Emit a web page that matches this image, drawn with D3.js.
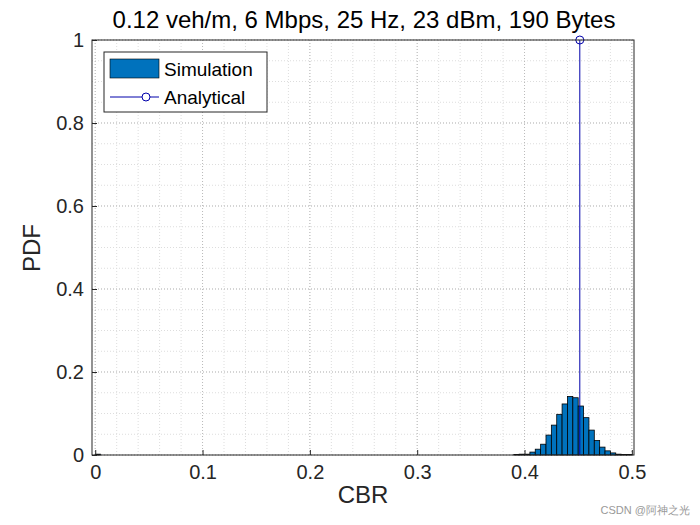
<!DOCTYPE html><html><head><script src="https://cdn.jsdelivr.net/npm/d3@7"></script>
<style>body{margin:0;background:#fff}text{font-family:Arial,"Liberation Sans",sans-serif}</style></head><body><svg id="c" width="700" height="525"></svg>
<script>
const binStarts=[0.0,0.39,0.395,0.40,0.405,0.41,0.415,0.42,0.425,0.43,0.435,0.44,0.445,0.45,0.455,0.46,0.465,0.47,0.475,0.48,0.485,0.49,0.495];
const pdfVals=[0.002,0.001,0.002,0.002,0.007,0.014,0.026,0.048,0.072,0.098,0.123,0.141,0.138,0.118,0.09,0.06,0.035,0.019,0.01,0.005,0.002,0.001,0.001];
const binWidth=0.005;
const analyticalX=0.4515, analyticalY=1;
const xTicks=[0,0.1,0.2,0.3,0.4,0.5], yTicks=[0,0.2,0.4,0.6,0.8,1];
const svg=d3.select("#c");
const x=d3.scaleLinear().domain([-0.003,0.502]).range([92,634]);
const y=d3.scaleLinear().domain([0,1]).range([455,40]);
const g=svg.append("g");
d3.range(0,0.501,0.02).forEach(v=>g.append("line").attr("x1",x(v)).attr("x2",x(v)).attr("y1",40).attr("y2",455).attr("stroke","#ddd").attr("stroke-dasharray","1,2"));
d3.range(0,1.001,0.05).forEach(v=>g.append("line").attr("y1",y(v)).attr("y2",y(v)).attr("x1",92).attr("x2",634).attr("stroke","#ddd").attr("stroke-dasharray","1,2"));
xTicks.forEach(v=>g.append("line").attr("x1",x(v)).attr("x2",x(v)).attr("y1",40).attr("y2",455).attr("stroke","#bbb").attr("stroke-dasharray","1,2"));
yTicks.forEach(v=>g.append("line").attr("y1",y(v)).attr("y2",y(v)).attr("x1",92).attr("x2",634).attr("stroke","#bbb").attr("stroke-dasharray","1,2"));
g.selectAll("rect.b").data(binStarts).enter().append("rect").attr("x",d=>x(d)).attr("width",d=>x(d+binWidth)-x(d))
 .attr("y",(d,i)=>y(pdfVals[i])).attr("height",(d,i)=>y(0)-y(pdfVals[i])).attr("fill","#0072BD").attr("stroke","#000").attr("stroke-width",0.8);
g.append("line").attr("x1",x(analyticalX)).attr("x2",x(analyticalX)).attr("y1",y(0)).attr("y2",y(analyticalY)).attr("stroke","#0000aa");
g.append("circle").attr("cx",x(analyticalX)).attr("cy",y(analyticalY)).attr("r",4).attr("fill","none").attr("stroke","#0000aa");
svg.append("rect").attr("x",92).attr("y",40).attr("width",542).attr("height",415).attr("fill","none").attr("stroke","#262626");
const xa=svg.append("g").attr("transform","translate(0,455)").call(d3.axisBottom(x).tickValues(xTicks).tickSize(-5).tickFormat(d3.format("")));
const ya=svg.append("g").attr("transform","translate(92,0)").call(d3.axisLeft(y).tickValues(yTicks).tickSize(-5).tickFormat(d3.format("")));
[xa,ya].forEach(a=>{a.select(".domain").remove();a.selectAll("line").attr("stroke","#262626");a.selectAll("text").attr("font-size",20).attr("fill","#262626");});
xa.selectAll("text").attr("dy","1.05em");ya.selectAll("text").attr("dx","-0.25em");
svg.append("text").attr("x",364).attr("y",28).attr("text-anchor","middle").attr("font-size",24).text("0.12 veh/m, 6 Mbps, 25 Hz, 23 dBm, 190 Bytes");
svg.append("text").attr("x",363).attr("y",503).attr("text-anchor","middle").attr("font-size",24).attr("fill","#262626").text("CBR");
svg.append("text").attr("transform","translate(40,248) rotate(-90)").attr("text-anchor","middle").attr("font-size",24).attr("fill","#262626").text("PDF");
const L=svg.append("g");
L.append("rect").attr("x",104).attr("y",52).attr("width",163).attr("height",60).attr("fill","#fff").attr("stroke","#262626");
L.append("rect").attr("x",110).attr("y",59).attr("width",49).attr("height",19).attr("fill","#0072BD").attr("stroke","#000").attr("stroke-width",0.6);
L.append("text").attr("x",164).attr("y",76).attr("font-size",19).text("Simulation");
L.append("line").attr("x1",110).attr("x2",159).attr("y1",97).attr("y2",97).attr("stroke","#0000aa");
L.append("circle").attr("cx",146).attr("cy",97).attr("r",4).attr("fill","#fff").attr("stroke","#0000aa");
L.append("text").attr("x",164).attr("y",104).attr("font-size",19).text("Analytical");
svg.append("text").attr("x",690).attr("y",514).attr("text-anchor","end").attr("font-size",11).attr("fill","#999").text("CSDN @阿神之光");
</script></body></html>
